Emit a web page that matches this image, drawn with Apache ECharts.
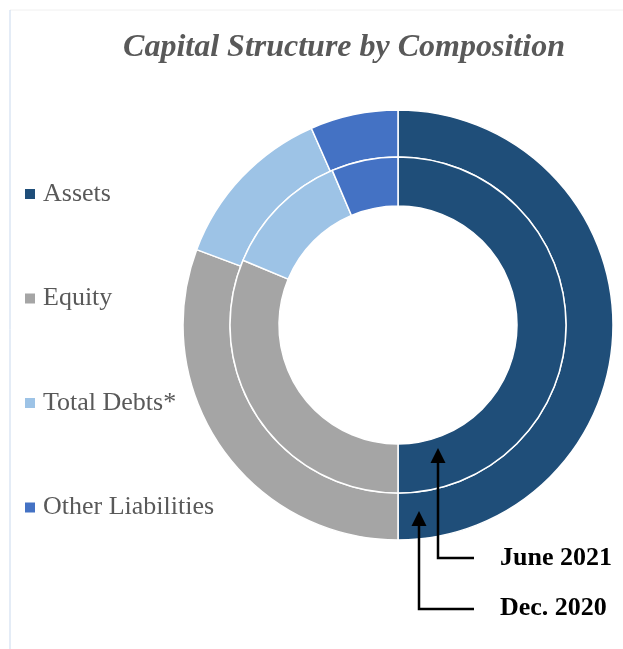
<!DOCTYPE html>
<html><head><meta charset="utf-8">
<script src="https://cdn.jsdelivr.net/npm/echarts@6/dist/echarts.min.js"></script>
<style>html,body{margin:0;padding:0;background:#fff}#c{width:623px;height:649px}</style>
</head><body><div id="c"></div>
<script>
const categories = ['Assets', 'Equity', 'Total Debts*', 'Other Liabilities'];
const dec2020 = [50, 30.7, 12.7, 6.6];
const jun2021 = [50, 31.3, 12.3, 6.4];
const colors = ['#1F4E79', '#A5A5A5', '#9DC3E6', '#4472C4'];
const serif = "'Liberation Serif','Times New Roman',serif";

const chart = echarts.init(document.getElementById('c'));
function mk(vals){ return categories.map((n,i)=>({name:n,value:vals[i],itemStyle:{color:colors[i]}})); }
chart.setOption({
  animation:false,
  color: colors,
  title:{text:'Capital Structure by Composition', left:339, top:27, textAlign:'center',
    textStyle:{fontFamily:serif, fontStyle:'italic', fontWeight:'bold', fontSize:32, color:'#595959'}},
  legend:{orient:'vertical', left:25, top:178, padding:0, itemWidth:10, itemHeight:10, itemGap:72.5,
    icon:'rect', data:categories, itemStyle:{borderWidth:0},
    textStyle:{fontFamily:serif, fontSize:26, color:'#595959', lineHeight:30, padding:[2,0,0,3]}},
  series:[
    {name:'Dec. 2020', type:'pie', center:[398,325], radius:[168,215], startAngle:90, clockwise:true,
     label:{show:false}, labelLine:{show:false}, silent:true,
     itemStyle:{borderColor:'#fff', borderWidth:1.5}, data:mk(dec2020)},
    {name:'June 2021', type:'pie', center:[398,325], radius:[119,168], startAngle:90, clockwise:true,
     label:{show:false}, labelLine:{show:false}, silent:true,
     itemStyle:{borderColor:'#fff', borderWidth:1.5}, data:mk(jun2021)}
  ],
  graphic:[
    {type:'line', z:100, shape:{x1:10,y1:10,x2:623,y2:10}, style:{stroke:'#F0F0F0', lineWidth:1}},
    {type:'line', z:100, shape:{x1:10,y1:10,x2:10,y2:649}, style:{stroke:'#C9D9EE', lineWidth:1}},
    {type:'polyline', z:100, shape:{points:[[474,558],[438,558],[438,462]]}, style:{stroke:'#000', lineWidth:2.5, fill:null}},
    {type:'polygon', z:100, shape:{points:[[438,448],[445.5,463],[430.5,463]]}, style:{fill:'#000'}},
    {type:'polyline', z:100, shape:{points:[[474,609],[419,609],[419,525]]}, style:{stroke:'#000', lineWidth:2.5, fill:null}},
    {type:'polygon', z:100, shape:{points:[[419,511],[426.5,526],[411.5,526]]}, style:{fill:'#000'}},
    {type:'text', z:100, left:500, top:545, style:{text:'June 2021', font:"bold 26px 'Liberation Serif'", fill:'#000'}},
    {type:'text', z:100, left:500, top:595, style:{text:'Dec. 2020', font:"bold 26px 'Liberation Serif'", fill:'#000'}}
  ]
});
</script></body></html>
